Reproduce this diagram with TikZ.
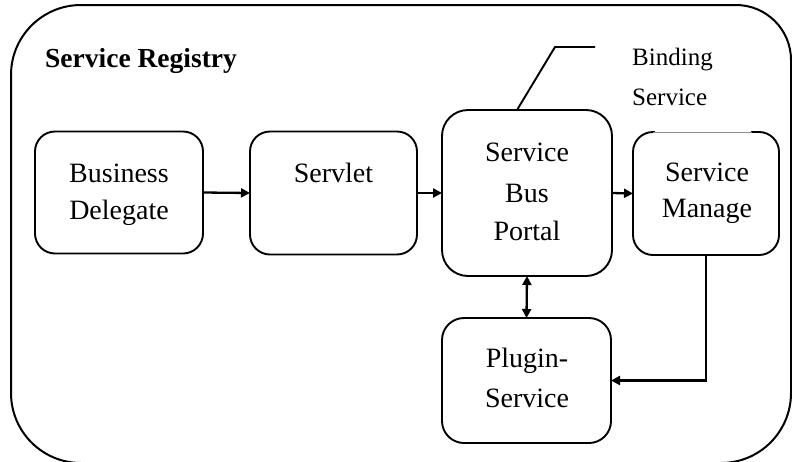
\documentclass[tikz,border=0pt]{standalone}
\usepackage{fontspec}
\setmainfont{Liberation Serif}
\usetikzlibrary{arrows.meta}
\begin{document}
\begin{tikzpicture}[x=1pt,y=-1pt,
  outer/.style={line width=2pt},
  box/.style={draw, line width=1.9pt, inner sep=0pt, outer sep=0pt},
  txt/.style={anchor=base, inner sep=0pt, font=\fontsize{28}{30}\selectfont},
  lbl/.style={anchor=base west, inner sep=0pt, font=\fontsize{25}{28}\selectfont},
  conn/.style={line width=2.3pt, -{Triangle[length=9pt,width=9pt]}},
  bconn/.style={line width=2.3pt, {Triangle[length=9pt,width=9pt]}-{Triangle[length=9pt,width=9pt]}}]
\useasboundingbox (0,0) rectangle (792,461);
% outer container
\draw[outer] (11,250) [rounded corners=70pt] |- (400,5) [rounded corners=55pt] -| (791,250) [rounded corners=70pt] |- (400,463) -| (11,250) -- cycle;
\node[anchor=base west, inner sep=0pt, font=\fontsize{27.5}{30}\selectfont\bfseries] (title) at (45,67) {Service Registry};
% boxes
\node[box, rounded corners=20pt, minimum width=168pt, minimum height=122pt] (bd) at (119,192.5) {};
\node[box, rounded corners=20pt, minimum width=167pt, minimum height=123pt] (sv) at (333.5,193) {};
\node[box, rounded corners=26pt, minimum width=170pt, minimum height=166pt] (sbp) at (527,193) {};
\node[box, rounded corners=20pt, minimum width=146pt, minimum height=123pt] (sm) at (706,193.5) {};
\node[box, rounded corners=22pt, minimum width=169pt, minimum height=125pt] (pl) at (526.5,380.5) {};
% faint top edge of Service Manage
\draw[white, line width=2.8pt] (655,132) -- (751,132);
\draw[black!45, line width=0.6pt] (653,132) -- (752,132);
% texts
\node[txt] (bd1) at (119,182) {Business};
\node[txt] (bd2) at (119,219) {Delegate};
\node[txt] (sv1) at (333.5,182) {Servlet};
\node[txt] (sb1) at (527,161) {Service};
\node[txt] (sb2) at (527,202) {Bus};
\node[txt] (sb3) at (527,240) {Portal};
\node[txt] (sm1) at (707,181) {Service};
\node[txt] (sm2) at (707,217) {Manage};
\node[txt] (pl1) at (527,367) {Plugin-};
\node[txt] (pl2) at (527,407) {Service};
% binding service callout
\coordinate (cA) at (517,110);
\coordinate (cB) at (555,47);
\coordinate (cC) at (595,47);
\draw[line width=1.9pt] (cA) -- (cB) -- (cC);
\node[lbl] (bs1) at (632,65) {Binding};
\node[lbl] (bs2) at (632,105) {Service};
% connectors
\draw[conn] (bd.east) -- (sv.west);
\draw[conn] (sv.east) -- (sbp.west);
\draw[conn] (sbp.east) -- (sm.west);
\draw[bconn] (sbp.south) -- (pl.north);
\draw[conn] (sm.south) |- (pl.east);
\end{tikzpicture}
\end{document}
